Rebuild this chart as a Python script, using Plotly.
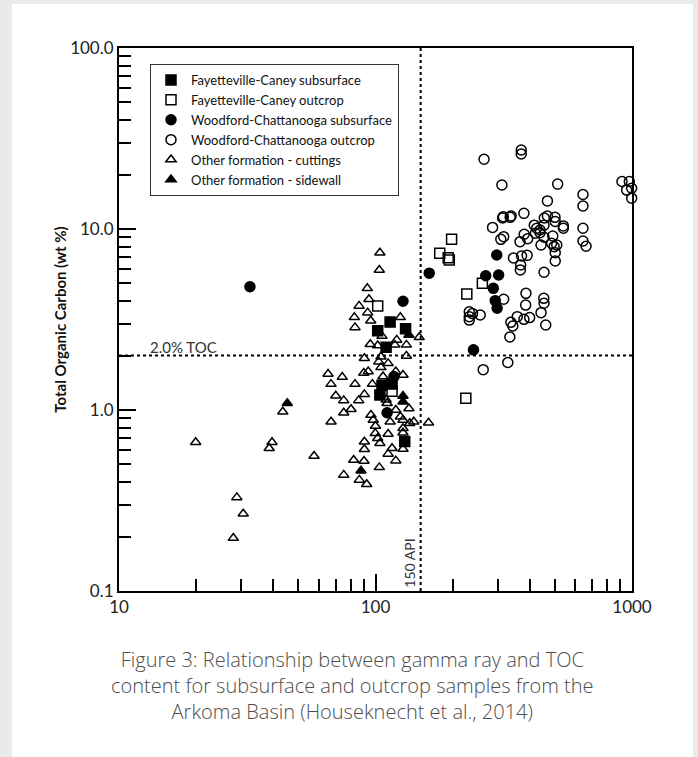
import math
import plotly.graph_objects as go

# ---------------- data (gamma ray API, TOC wt %) ----------------
fc_sub_gr = [114, 102, 131, 110, 106, 116, 130, 104]
fc_sub_toc = [3.06, 2.74, 2.81, 2.22, 1.37, 1.39, 0.67, 1.21]

fc_out_gr = [102, 116, 198, 178, 192, 194, 261, 227, 225]
fc_out_toc = [3.76, 1.27, 8.77, 7.34, 6.94, 6.74, 5.01, 4.37, 1.16]

wc_sub_gr = [32.4, 128, 162, 118, 111, 297, 269, 302, 288, 293, 298, 241]
wc_sub_toc = [4.80, 3.99, 5.7, 1.53, 0.966, 7.18, 5.52, 5.57, 4.70, 4.02, 3.65, 2.15]

wc_out_gr = [265, 370, 370, 311, 513, 914, 976, 953, 997, 997, 644, 644, 468,
             313, 315, 338, 335, 379, 286, 308, 316, 366, 380, 392, 416, 425,
             438, 455, 468, 501, 502, 454, 540, 540, 420, 438, 454, 491, 442,
             486, 509, 497, 502, 502, 454, 644, 644, 662, 345, 371, 390, 368,
             367, 386, 385, 453, 454, 316, 232, 239, 256, 232, 232, 337, 343,
             357, 379, 399, 442, 461, 334, 328, 263]
wc_out_toc = [24.3, 27.3, 26.0, 17.5, 17.7, 18.3, 18.3, 16.4, 16.8, 14.8, 15.5, 13.4, 14.3,
              11.5, 11.7, 11.8, 11.6, 12.2, 10.2, 8.77, 9.07, 8.51, 9.35, 8.84, 10.5, 10.1,
              9.87, 11.5, 11.8, 11.6, 11.0, 10.5, 10.4, 10.1, 9.47, 9.54, 9.00, 9.15, 8.16,
              8.34, 8.16, 7.99, 7.40, 6.66, 5.77, 10.1, 8.59, 8.03, 6.91, 7.09, 7.15, 6.33,
              5.94, 4.41, 3.80, 4.14, 3.89, 4.09, 3.49, 3.41, 3.35, 3.28, 3.14, 3.05, 2.91,
              3.28, 3.17, 3.24, 3.45, 2.95, 2.53, 1.83, 1.67]

cut_gr = [43.5, 19.9, 39.5, 38.5, 28.8, 30.5, 27.9,
          104, 103.5, 92.9, 94.3, 86.3, 93.2, 82.7, 95.8, 83.2, 125, 106, 121, 132,
          148, 95.4, 102, 119, 132, 90.5, 105, 103, 112, 105, 90.0, 93.7, 65.3, 74.2,
          67.1, 83.2, 97.2, 107, 120, 128, 90.5, 70.0, 75.2, 86.0, 80.3, 75.2, 67.1,
          96.0, 98.0, 110, 111, 120, 135, 125, 114, 128, 136, 141, 161, 100, 99.8,
          112, 128, 128, 102, 104, 90.5, 90.5, 116, 112, 128, 57.6, 82.2, 90.2, 120,
          103.5, 75.2, 86.5, 92.4]
cut_toc = [0.979, 0.663, 0.663, 0.615, 0.329, 0.267, 0.196,
           7.40, 5.94, 4.70, 4.09, 3.76, 3.45, 3.25, 3.11, 2.86, 3.25, 2.56, 2.44, 2.29,
           2.52, 2.31, 2.27, 2.29, 1.99, 1.93, 1.97, 1.85, 1.81, 1.72, 1.60, 1.63, 1.58, 1.52,
           1.39, 1.39, 1.39, 1.53, 1.63, 1.56, 1.22, 1.20, 1.13, 1.13, 1.01, 0.966, 0.862,
           0.938, 0.881, 1.14, 1.09, 1.00, 1.02, 0.918, 0.862, 0.881, 0.844, 0.862, 0.851, 0.816, 0.743,
           0.737, 0.792, 0.749, 0.698, 0.655, 0.668, 0.607, 0.615, 0.572, 0.609, 0.557, 0.529, 0.523, 0.525,
           0.482, 0.438, 0.411, 0.389]

side_gr = [45.3, 135, 128, 87.8, 128]
side_toc = [1.09, 2.60, 1.195, 0.462, 1.11]

x_major = [10, 100, 1000]
x_major_text = ["10", "100", "1000"]
x_minor = [20, 30, 40, 50, 60, 70, 80, 90, 200, 300, 400, 500, 600, 700, 800, 900]
y_major = [0.1, 1, 10, 100]
y_major_text = ["0.1", "1.0", "10.0", "100.0"]
y_minor = [0.2, 0.3, 0.4, 0.5, 0.6, 0.7, 0.8, 0.9, 2, 3, 4, 5, 6, 7, 8, 9,
           20, 30, 40, 50, 60, 70, 80, 90]

API_CUTOFF = 150
TOC_CUTOFF = 2.0

caption = ("Figure 3: Relationship between gamma ray and TOC<br>"
           "content for subsurface and outcrop samples from the<br>"
           "Arkoma Basin (Houseknecht et al., 2014)")

# ---------------- figure ----------------
W, H = 698, 757
L, R, T, B = 119, 66, 48, 166
fig = go.Figure()

lw = 1.5


def add(x, y, name, symbol, size, rank):
    fig.add_trace(go.Scatter(
        x=x, y=y, mode="markers", name=name, legendrank=rank, cliponaxis=False,
        marker=dict(symbol=symbol, size=size, color="black",
                    line=dict(color="black", width=lw)),
    ))


add(cut_gr, cut_toc, "Other formation - cuttings", "triangle-up-open", 9, 5)
add(wc_out_gr, wc_out_toc, "Woodford-Chattanooga outcrop", "circle-open", 10, 4)
add(fc_out_gr, fc_out_toc, "Fayetteville-Caney outcrop", "square-open", 10, 2)
add(side_gr, side_toc, "Other formation - sidewall", "triangle-up", 9, 6)
add(wc_sub_gr, wc_sub_toc, "Woodford-Chattanooga subsurface", "circle", 10, 3)
add(fc_sub_gr, fc_sub_toc, "Fayetteville-Caney subsurface", "square", 10, 1)

# reference lines
fig.add_shape(type="line", xref="x", yref="y", x0=API_CUTOFF, x1=API_CUTOFF, y0=0.1, y1=100,
              line=dict(color="black", width=2, dash="dot"))
fig.add_shape(type="line", xref="x", yref="y", x0=10, x1=1000, y0=TOC_CUTOFF, y1=TOC_CUTOFF,
              line=dict(color="black", width=2, dash="dot"))


def px_x(p):
    return (p - L) / (W - L - R)


def px_y(p):
    return (H - B - p) / (H - T - B)


# white card on grey page
fig.add_shape(type="rect", xref="paper", yref="paper", layer="below",
              x0=px_x(12), x1=px_x(693), y0=px_y(757), y1=px_y(4),
              fillcolor="white", line=dict(width=0))

# annotations on log axes use log10 coordinates
fig.add_annotation(x=math.log10(13.0), xref="x", y=math.log10(TOC_CUTOFF), yref="y",
                   text="2.0% TOC", showarrow=False, xanchor="left", yanchor="bottom",
                   yshift=-2, font=dict(size=15, color="#333"))
fig.add_annotation(x=math.log10(API_CUTOFF), xref="x", y=-1, yref="y", text="150 API",
                   showarrow=False, textangle=-90, xanchor="right", yanchor="bottom",
                   xshift=-1, yshift=1, font=dict(size=14, color="#333"))
fig.add_annotation(x=px_x(352), xref="paper", y=px_y(686), yref="paper", text=caption,
                   showarrow=False, xanchor="center", yanchor="middle", align="center",
                   font=dict(family="Open Sans", size=20, color="#4d4d4d", weight=300))

axis_common = dict(type="log", showline=True, linecolor="black", linewidth=2, mirror=True,
                   ticks="inside", ticklen=17, tickwidth=2, tickcolor="black",
                   showgrid=False, zeroline=False,
                   tickfont=dict(size=17, color="#222"))

fig.update_xaxes(range=[1, 3], tickmode="array", tickvals=x_major, ticktext=x_major_text,
                 minor=dict(tickmode="array", tickvals=x_minor, ticks="inside", ticklen=12,
                            tickwidth=2, tickcolor="black", showgrid=False),
                 **axis_common)
fig.update_yaxes(range=[-1, 2], tickmode="array", tickvals=y_major, ticktext=y_major_text,
                 minor=dict(tickmode="array", tickvals=y_minor, ticks="inside", ticklen=12,
                            tickwidth=2, tickcolor="black", showgrid=False),
                 title=dict(text="<b>Total Organic Carbon (wt %)</b>", standoff=0,
                            font=dict(size=15, color="#111")),
                 **axis_common)

fig.update_layout(
    width=W, height=H,
    margin=dict(l=L, r=R, t=T, b=B, pad=0),
    paper_bgcolor="#e9eaec", plot_bgcolor="white",
    font=dict(family="Lato", color="#222"),
    showlegend=True,
    legend=dict(x=px_x(150), y=px_y(64), xanchor="left", yanchor="top",
                bgcolor="white", bordercolor="#333", borderwidth=1,
                font=dict(size=13, color="#111"), itemsizing="trace",
                itemwidth=30, tracegroupgap=0),
)

fig.write_html("out.html")
